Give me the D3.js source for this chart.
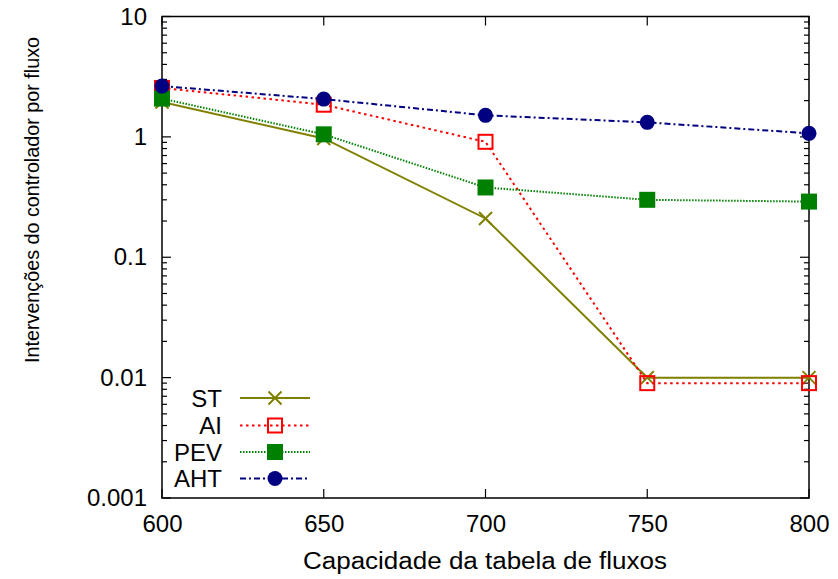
<!DOCTYPE html>
<html><head><meta charset="utf-8">
<script src="https://cdn.jsdelivr.net/npm/d3@7"></script>
<style>body{margin:0;background:#fff}svg{display:block}text{font-family:"Liberation Sans",Arial,sans-serif;fill:#000}</style>
</head><body><svg id="c" width="838" height="579"></svg>
<script>
const categories = [600, 650, 700, 750, 800];
const stValues  = [1.95, 0.97, 0.21, 0.01, 0.01];
const aiValues  = [2.55, 1.85, 0.91, 0.009, 0.009];
const pevValues = [2.08, 1.05, 0.38, 0.30, 0.29];
const ahtValues = [2.64, 2.06, 1.51, 1.32, 1.07];
const yTickValues = [0.001, 0.01, 0.1, 1, 10];
const yTickLabels = ["0.001", "0.01", "0.1", "1", "10"];
const seriesNames = ["ST", "AI", "PEV", "AHT"];

const svg = d3.select("#c");
const L = 162, R = 809, T = 16.5, B = 498;
const x = d3.scaleLinear().domain([600, 800]).range([L, R]);
const y = d3.scaleLog().domain([0.001, 10]).range([B, T]);

const series = [
  {name: "ST", values: stValues, color: "#808000", dash: null, marker: "x"},
  {name: "AI", values: aiValues, color: "#ff0000", dash: "2.5,3.5", marker: "osq"},
  {name: "PEV", values: pevValues, color: "#008000", dash: "1.5,1.5", marker: "fsq"},
  {name: "AHT", values: ahtValues, color: "#000080", dash: "6,3,2,3", marker: "circ"}
];

const minor = [];
for (let e = -3; e < 1; e++) for (let m = 2; m <= 9; m++) minor.push(m * Math.pow(10, e));
const g = svg.append("g");
minor.forEach(v => {
  g.append("line").attr("x1", L).attr("x2", L + 5).attr("y1", y(v)).attr("y2", y(v)).attr("stroke", "#000").attr("stroke-width", 1.2);
  g.append("line").attr("x1", R).attr("x2", R - 5).attr("y1", y(v)).attr("y2", y(v)).attr("stroke", "#000").attr("stroke-width", 1.2);
});
yTickValues.forEach(v => {
  g.append("line").attr("x1", L).attr("x2", L + 9).attr("y1", y(v)).attr("y2", y(v)).attr("stroke", "#000").attr("stroke-width", 1.2);
  g.append("line").attr("x1", R).attr("x2", R - 9).attr("y1", y(v)).attr("y2", y(v)).attr("stroke", "#000").attr("stroke-width", 1.2);
});
categories.forEach(v => {
  g.append("line").attr("x1", x(v)).attr("x2", x(v)).attr("y1", B).attr("y2", B - 9).attr("stroke", "#000").attr("stroke-width", 1.2);
  g.append("line").attr("x1", x(v)).attr("x2", x(v)).attr("y1", T).attr("y2", T + 9).attr("stroke", "#000").attr("stroke-width", 1.2);
});

const xAxis = svg.append("g").attr("transform", `translate(0,${B})`)
  .call(d3.axisBottom(x).tickValues(categories).tickFormat(d3.format("d")).tickSize(0).tickPadding(17));
xAxis.select(".domain").remove();
xAxis.selectAll("text").attr("font-size", 24).attr("font-family", "Liberation Sans, Arial, sans-serif");
const yAxis = svg.append("g").attr("transform", `translate(${L},0)`)
  .call(d3.axisLeft(y).tickValues(yTickValues).tickFormat((d, i) => yTickLabels[i]).tickSize(0).tickPadding(15));
yAxis.select(".domain").remove();
yAxis.selectAll("text").attr("font-size", 24).attr("font-family", "Liberation Sans, Arial, sans-serif");

svg.append("rect").attr("x", L).attr("y", T).attr("width", R - L).attr("height", B - T)
  .attr("fill", "none").attr("stroke", "#000").attr("stroke-width", 1.5);

svg.append("text").attr("x", 485).attr("y", 569).attr("text-anchor", "middle").attr("font-size", 23)
  .attr("textLength", 364).attr("lengthAdjust", "spacingAndGlyphs")
  .text("Capacidade da tabela de fluxos");
svg.append("text").attr("transform", "translate(39,200) rotate(-90)").attr("text-anchor", "middle").attr("font-size", 21)
  .attr("textLength", 326).attr("lengthAdjust", "spacingAndGlyphs")
  .text("Intervenções do controlador por fluxo");

function drawMarker(sel, type, cx, cy, color) {
  if (type === "x") {
    const s = 6.5;
    sel.append("path").attr("d", `M${cx - s},${cy - s}L${cx + s},${cy + s}M${cx - s},${cy + s}L${cx + s},${cy - s}`)
      .attr("stroke", color).attr("stroke-width", 2).attr("fill", "none");
  } else if (type === "osq") {
    sel.append("rect").attr("x", cx - 7).attr("y", cy - 7).attr("width", 14).attr("height", 14)
      .attr("fill", "none").attr("stroke", color).attr("stroke-width", 2);
  } else if (type === "fsq") {
    sel.append("rect").attr("x", cx - 8).attr("y", cy - 8).attr("width", 16).attr("height", 16).attr("fill", color);
  } else {
    sel.append("circle").attr("cx", cx).attr("cy", cy).attr("r", 7.5).attr("fill", color);
  }
}

const line = d3.line().x((d, i) => x(categories[i])).y(d => y(d));
series.forEach(s => {
  const gs = svg.append("g");
  gs.append("path").attr("d", line(s.values)).attr("fill", "none").attr("stroke", s.color)
    .attr("stroke-width", 2).attr("stroke-dasharray", s.dash);
  s.values.forEach((v, i) => drawMarker(gs, s.marker, x(categories[i]), y(v), s.color));
});

const legY = [398, 425.5, 452, 478.5];
series.forEach((s, i) => {
  const gl = svg.append("g");
  gl.append("text").attr("x", 222).attr("y", legY[i]).attr("dy", "0.36em").attr("text-anchor", "end").attr("font-size", 24).text(seriesNames[i]);
  gl.append("line").attr("x1", 240).attr("x2", 310).attr("y1", legY[i]).attr("y2", legY[i])
    .attr("stroke", s.color).attr("stroke-width", 2).attr("stroke-dasharray", s.dash);
  drawMarker(gl, s.marker, 275, legY[i], s.color);
});
</script></body></html>
